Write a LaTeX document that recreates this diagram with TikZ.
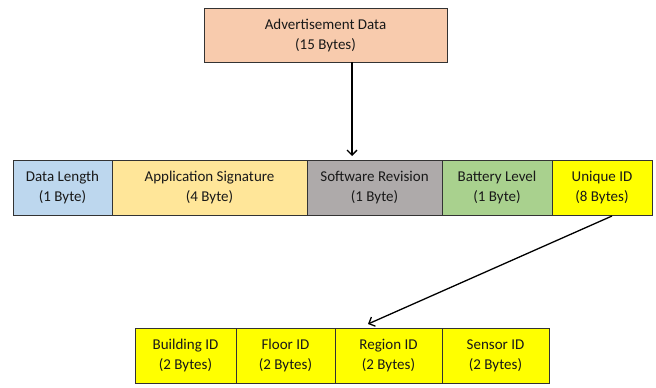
\documentclass[tikz,border=0pt]{standalone}
\usepackage{fontspec}
\setmainfont{Carlito}
\usetikzlibrary{arrows.meta}
\definecolor{peach}{HTML}{F8CBAD}
\definecolor{lblue}{HTML}{BDD7EE}
\definecolor{lgold}{HTML}{FFE699}
\definecolor{lgray}{HTML}{AEAAAA}
\definecolor{lgreen}{HTML}{A9D18E}
\definecolor{yel}{HTML}{FFFF00}
\begin{document}
\begin{tikzpicture}[x=1pt,y=-1pt,
  field/.style={draw=black!80, line width=0.9pt, align=center, font=\fontsize{15}{20}\selectfont, inner sep=0pt, text=black!90},
  conn/.style={-{Straight Barb[length=5pt,width=10pt]}, line width=1.3pt, black}]
\useasboundingbox (0,0) rectangle (656,388);
\node[field, fill=peach, minimum width=243pt, minimum height=54pt] (adv) at (325.5,35) {Advertisement Data\\(15 Bytes)};
\node[field, fill=lblue, minimum width=99pt, minimum height=55pt] (dl) at (62.5,187.5) {Data Length\\(1 Byte)};
\node[field, fill=lgold, minimum width=195pt, minimum height=55pt] (as) at (209.5,187.5) {Application Signature\\(4 Byte)};
\node[field, fill=lgray, minimum width=135pt, minimum height=55pt] (sr) at (374.5,187.5) {Software Revision\\(1 Byte)};
\node[field, fill=lgreen, minimum width=110pt, minimum height=55pt] (bl) at (497,187.5) {Battery Level\\(1 Byte)};
\node[field, fill=yel, minimum width=100pt, minimum height=55pt] (uid) at (602,187.5) {Unique ID\\(8 Bytes)};
\node[field, fill=yel, minimum width=101pt, minimum height=55pt] (bid) at (185.5,355.5) {Building ID\\(2 Bytes)};
\node[field, fill=yel, minimum width=99pt, minimum height=55pt] (fid) at (285.5,355.5) {Floor ID\\(2 Bytes)};
\node[field, fill=yel, minimum width=107pt, minimum height=55pt] (rid) at (388.5,355.5) {Region ID\\(2 Bytes)};
\node[field, fill=yel, minimum width=107pt, minimum height=55pt] (sid) at (495.5,355.5) {Sensor ID\\(2 Bytes)};
\coordinate (a1) at (352,62);
\coordinate (a2) at (352,156);
\draw[conn] (a1) -- (a2);
\coordinate (b1) at (612,216);
\coordinate (b2) at (368,324);
\draw[conn] (b1) -- (b2);
\end{tikzpicture}
\end{document}
